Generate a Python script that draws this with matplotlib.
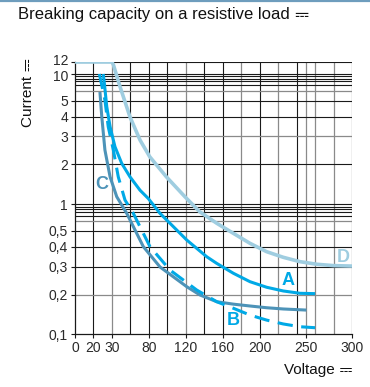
import numpy as np
import matplotlib
matplotlib.use("Agg")
import matplotlib.pyplot as plt
from matplotlib.lines import Line2D
from matplotlib import font_manager
from matplotlib.transforms import ScaledTranslation

# ---------------- data ----------------
x_ticks = [0, 20, 30, 80, 120, 160, 200, 250, 300]
x_labels = ['0', '20', '30', '80', '120', '160', '200', '250', '300']
y_ticks = [0.1, 0.2, 0.3, 0.4, 0.5, 1, 2, 3, 4, 5, 10, 12]
y_labels = ['0,1', '0,2', '0,3', '0,4', '0,5', '1', '2', '3', '4', '5', '10', '12']

A_V = [25.3, 25.9, 27.2, 29, 34.1, 43.2, 54.5, 68, 79.2, 92, 121, 142.6, 153.5, 171.5, 189.5, 207.6, 225.6, 243.7, 260]
A_I = [10, 7.87, 4.62, 3.45, 2.57, 2.02, 1.60, 1.27, 1.10, 0.788, 0.441, 0.348, 0.316, 0.274, 0.2425, 0.2237, 0.212, 0.205, 0.204]

B_V = [23.2, 26.2, 28, 31.9, 38.6, 47.7, 58.9, 81.2, 102.9, 131.8, 153.5, 171.5, 189.5, 207.6, 225.6, 243.7, 260]
B_I = [10, 5.12, 3.45, 2.45, 1.60, 1.07, 0.788, 0.402, 0.287, 0.215, 0.1775, 0.158, 0.140, 0.128, 0.1195, 0.1138, 0.1118]

C_V = [23.5, 24.5, 26.2, 29, 36.5, 50, 72.5, 92.1, 121, 135.4, 153.5, 171.5, 189.5, 207.6, 225.6, 250.6]
C_I = [6.3, 4.02, 2.45, 1.60, 1.135, 0.788, 0.402, 0.30, 0.2256, 0.20, 0.1775, 0.170, 0.1645, 0.1595, 0.156, 0.153]

D_V = [0, 30, 32, 41, 54.5, 68, 81, 99, 119, 135, 153.5, 171.5, 189.5, 207.5, 225.5, 243.5, 262, 280, 300]
D_I = [12, 12, 11.5, 7.2, 4.0, 2.83, 2.22, 1.6, 1.135, 0.82, 0.61, 0.484, 0.421, 0.374, 0.345, 0.324, 0.312, 0.306, 0.304]

grid_x_dark = [20, 55, 80, 100, 140, 160, 200, 240]
grid_x_light = [30, 120, 180, 220, 250, 260, 280, 300]
grid_y_dark = [12, 10, 9.4, 8.8, 8.3, 7.6, 5, 4, 2, 1, 0.93, 0.87, 0.81, 0.74, 0.5, 0.4, 0.3]
grid_y_light = [6.4, 3, 0.65, 0.2]

DC = '\u2393'

# scale anchors (axis geometry of the original chart)
x_anchor_v = [0, 20, 30, 80, 300]
x_anchor_p = [0, 20, 40, 80, 300]
y_anchor_p = [-334, -295, -267, -247, -231, -204, -164, -136, -117, -101, -74, -62]


def find_family(ch):
    try:
        from fontTools.ttLib import TTFont
    except Exception:
        return None
    seen = set()
    for f in font_manager.fontManager.ttflist:
        if f.fname in seen:
            continue
        seen.add(f.fname)
        try:
            t = TTFont(f.fname, fontNumber=0, lazy=True)
            cmap = t.getBestCmap()
            if cmap and ord(ch) in cmap:
                return f.name
        except Exception:
            continue
    return None


dc_family = find_family(DC)
if dc_family:
    plt.rcParams['font.family'] = ['Liberation Sans', dc_family, 'DejaVu Sans']
else:
    plt.rcParams['font.family'] = ['Liberation Sans', 'DejaVu Sans']


def interp_ext(x, xp, fp):
    x = np.asarray(x, dtype=float)
    xp = np.asarray(xp, dtype=float)
    fp = np.asarray(fp, dtype=float)
    out = np.interp(x, xp, fp)
    s0 = (fp[1] - fp[0]) / (xp[1] - xp[0])
    s1 = (fp[-1] - fp[-2]) / (xp[-1] - xp[-2])
    out = np.where(x < xp[0], fp[0] + (x - xp[0]) * s0, out)
    out = np.where(x > xp[-1], fp[-1] + (x - xp[-1]) * s1, out)
    return out


def xf(v):
    return interp_ext(v, x_anchor_v, x_anchor_p)


def xi(p):
    return interp_ext(p, x_anchor_p, x_anchor_v)


logs = np.log10(y_ticks)


def yf(y):
    y = np.clip(np.asarray(y, dtype=float), 1e-6, None)
    return interp_ext(np.log10(y), logs, y_anchor_p)


def yi(p):
    return 10 ** interp_ext(p, y_anchor_p, logs)


# ---------------- figure ----------------
W, H = 370, 387
fig = plt.figure(figsize=(W / 100, H / 100), dpi=100)
ax = fig.add_axes([75 / W, 1 - 334 / H, (352 - 75) / W, (334 - 62) / H])
ax.set_xscale('function', functions=(xf, xi))
ax.set_yscale('function', functions=(yf, yi))
ax.set_xlim(0, 300)
ax.set_ylim(0.1, 12)

for v in grid_x_dark:
    ax.axvline(v, color='#1a1a1a', lw=0.8, zorder=1)
for v in grid_x_light:
    ax.axvline(v, color='#8a8a8a', lw=0.9, zorder=1)
for v in grid_y_dark:
    ax.axhline(v, color='#1a1a1a', lw=0.8, zorder=1)
for v in grid_y_light:
    ax.axhline(v, color='#8a8a8a', lw=0.9, zorder=1)

cA = '#00a9e6'
cC = '#4d93b8'
cD = '#9fcde0'

ax.plot(D_V, D_I, color=cD, lw=2.6, zorder=3, solid_capstyle='butt')
ax.plot(C_V, C_I, color=cC, lw=2.2, zorder=4, solid_capstyle='butt')
ax.plot(B_V, B_I, color=cA, lw=2.2, zorder=5, dashes=(5, 2.8))
ax.plot(A_V, A_I, color=cA, lw=2.2, zorder=6, solid_capstyle='butt')

lab_kw = dict(fontsize=13, fontweight='bold', ha='center', va='center', zorder=7)
ax.text(230.7, 0.2485, 'A', color=cA, **lab_kw)
ax.text(171, 0.126, 'B', color=cA, **lab_kw)
ax.text(24.6, 1.41, 'C', color=cC, **lab_kw)
ax.text(290.3, 0.346, 'D', color=cD, **lab_kw)

ax.set_xticks(x_ticks)
ax.set_xticklabels(x_labels)
ax.set_yticks(y_ticks)
ax.set_yticklabels(y_labels)
ax.xaxis.set_minor_locator(matplotlib.ticker.NullLocator())
ax.yaxis.set_minor_locator(matplotlib.ticker.NullLocator())
ax.tick_params(axis='both', direction='out', length=3, width=0.8, color='#1a1a1a',
               labelsize=10, labelcolor='#2a2a2a', pad=2)

# nudge the two crowded top labels apart (12 up, 10 down) as in the original
yticks_objs = ax.yaxis.get_major_ticks(len(y_ticks))
for tk, lab in zip(yticks_objs, y_labels):
    if lab == '12':
        tk.label1.set_transform(tk.label1.get_transform() + ScaledTranslation(0, 0.025, fig.dpi_scale_trans))
    elif lab == '10':
        tk.label1.set_transform(tk.label1.get_transform() + ScaledTranslation(0, -0.015, fig.dpi_scale_trans))

for s in ['top', 'right']:
    ax.spines[s].set_visible(False)
for s in ['left', 'bottom']:
    ax.spines[s].set_color('#1a1a1a')
    ax.spines[s].set_linewidth(0.9)
    ax.spines[s].set_zorder(2)

fig.add_artist(Line2D([0, 1], [1 - 1.2 / H, 1 - 1.2 / H], transform=fig.transFigure,
                      color='#6e9dbd', lw=1.6))


def dc_shape(x0, y0, size, vertical=False, color='#111111'):
    # draws the direct-current sign (solid line over a dashed line), pixel coords
    def seg(a, b):
        if vertical:
            (ax0, ay0), (ax1, ay1) = a, b
            pts = [(x0 - ay0, y0 + ax0), (x0 - ay1, y0 + ax1)]
        else:
            pts = [(x0 + a[0], y0 + a[1]), (x0 + b[0], y0 + b[1])]
        fig.add_artist(Line2D([p[0] / W for p in pts], [p[1] / H for p in pts],
                              transform=fig.transFigure, color=color, lw=0.9))
    seg((0, size * 0.2), (size, size * 0.2))
    for k in range(3):
        seg((k * size / 3 + size * 0.05, -size * 0.15), (k * size / 3 + size * 0.25, -size * 0.15))


if dc_family:
    fig.text(18 / W, 1 - 14 / H, 'Breaking capacity on a resistive load ' + DC,
             ha='left', va='center', fontsize=12, color='#111111')
    fig.text(28 / W, 1 - 92 / H, 'Current ' + DC, rotation=90,
             ha='center', va='center', fontsize=11, color='#111111')
    fig.text(353 / W, 1 - 370 / H, 'Voltage ' + DC,
             ha='right', va='center', fontsize=11, color='#111111')
else:
    fig.text(18 / W, 1 - 14 / H, 'Breaking capacity on a resistive load',
             ha='left', va='center', fontsize=12, color='#111111')
    dc_shape(301, H - 14, 13)
    fig.text(28 / W, 1 - 96 / H, 'Current', rotation=90,
             ha='center', va='center', fontsize=11, color='#111111')
    dc_shape(28, H - 66, 10, vertical=True)
    fig.text(333 / W, 1 - 370 / H, 'Voltage',
             ha='right', va='center', fontsize=11, color='#111111')
    dc_shape(339, H - 370, 13)

fig.savefig('out.png', dpi=100)
